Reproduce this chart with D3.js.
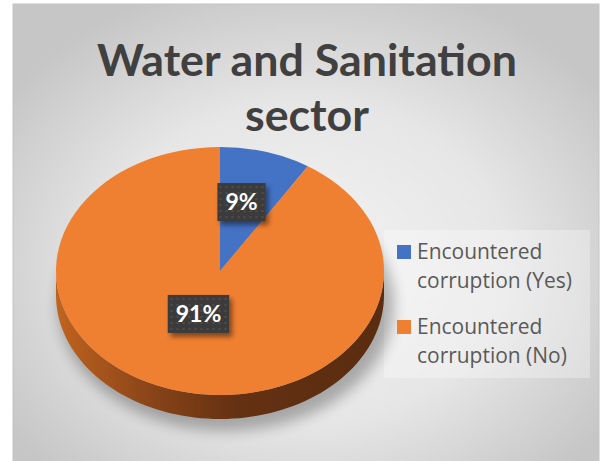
<!DOCTYPE html>
<html>
<head>
<meta charset="utf-8">
<script src="https://cdn.jsdelivr.net/npm/d3@7"></script>
<style>
  html, body { margin: 0; padding: 0; background: #ffffff; }
  svg { display: block; }
</style>
</head>
<body>
<svg id="chart" width="604" height="461"></svg>
<script>
// Survey result: share of respondents who encountered corruption
const categories = ["Encountered corruption (Yes)", "Encountered corruption (No)"];
const values = [9, 91];
const labels = ["9%", "91%"];
const colors = ["#4472C4", "#F08031"];
const titleLines = ["Water and Sanitation", "sector"];

const W = 604, H = 461;
const svg = d3.select("#chart");
const defs = svg.append("defs");

// chart background: soft radial gradient
const bg = defs.append("radialGradient").attr("id", "bgGrad")
  .attr("cx", "50%").attr("cy", "55%").attr("r", "62%");
bg.append("stop").attr("offset", "0%").attr("stop-color", "#f3f3f3");
bg.append("stop").attr("offset", "55%").attr("stop-color", "#e6e6e6");
bg.append("stop").attr("offset", "100%").attr("stop-color", "#c6c6c6");

svg.append("rect").attr("x", 13).attr("y", 4).attr("width", 586).attr("height", 470)
  .attr("fill", "url(#bgGrad)").attr("stroke", "#c4c4c4").attr("stroke-width", 1);

// side wall shading of the tilted pie
const sideGrad = defs.append("linearGradient").attr("id", "sideGrad")
  .attr("x1", "0%").attr("x2", "100%").attr("y1", "0%").attr("y2", "0%");
sideGrad.append("stop").attr("offset", "0%").attr("stop-color", "#c0631f");
sideGrad.append("stop").attr("offset", "30%").attr("stop-color", "#874318");
sideGrad.append("stop").attr("offset", "55%").attr("stop-color", "#643112");
sideGrad.append("stop").attr("offset", "100%").attr("stop-color", "#5a2c10");

// dotted dark fill for the data labels
const pat = defs.append("pattern").attr("id", "dots").attr("patternUnits", "userSpaceOnUse")
  .attr("width", 6).attr("height", 6);
pat.append("rect").attr("width", 6).attr("height", 6).attr("fill", "#3b3b3b");
pat.append("rect").attr("x", 2).attr("y", 2).attr("width", 2).attr("height", 2).attr("fill", "#4d4d4d");

const shadow = defs.append("filter").attr("id", "lblShadow")
  .attr("x", "-30%").attr("y", "-30%").attr("width", "170%").attr("height", "180%");
shadow.append("feDropShadow").attr("dx", 3).attr("dy", 4).attr("stdDeviation", 2.5)
  .attr("flood-color", "#000").attr("flood-opacity", 0.45);

const blur = defs.append("filter").attr("id", "pieShadow")
  .attr("x", "-20%").attr("y", "-20%").attr("width", "140%").attr("height", "160%");
blur.append("feGaussianBlur").attr("stdDeviation", 7);

// legend panel
svg.append("rect").attr("x", 384).attr("y", 230).attr("width", 206).attr("height", 148)
  .attr("fill", "#ffffff").attr("opacity", 0.3);

// title
const title = svg.append("text").attr("text-anchor", "middle")
  .attr("font-family", "Lato, 'Open Sans', sans-serif").attr("font-weight", "bold")
  .attr("fill", "#404040").attr("font-size", 42);
title.selectAll("tspan").data(titleLines).join("tspan")
  .attr("x", 307).attr("y", (d, i) => 76 + i * 55).text(d => d);
const firstLine = title.select("tspan").node();
const tw = firstLine.getComputedTextLength();
title.attr("font-size", 42 * 420 / tw);

// tilted 3D pie geometry
const cx = 220, cy = 271, rx = 164, ry = 124, depth = 24;
const pie = d3.pie().sort(null).value(d => d);
const arcs = pie(values);
const arc = d3.arc().innerRadius(0).outerRadius(rx);

// ellipse point for an angle measured clockwise from 12 o'clock
const px = a => cx + rx * Math.sin(a);
const py = a => cy - ry * Math.cos(a);

// soft shadow under the pie
svg.append("ellipse").attr("cx", cx + 6).attr("cy", cy + depth + 10)
  .attr("rx", rx + 4).attr("ry", ry + 2)
  .attr("fill", "#000").attr("opacity", 0.28).attr("filter", "url(#pieShadow)");

// front side wall: portion of each slice between 90° and 270°
const sideG = svg.append("g");
arcs.forEach((d, i) => {
  const a0 = Math.max(d.startAngle, Math.PI / 2);
  const a1 = Math.min(d.endAngle, 3 * Math.PI / 2);
  if (a1 <= a0) return;
  const steps = 80;
  const pts = d3.range(steps + 1).map(k => a0 + (a1 - a0) * k / steps);
  const top = pts.map(a => [px(a), py(a)]);
  const bot = pts.slice().reverse().map(a => [px(a), py(a) + depth]);
  sideG.append("path")
    .attr("d", d3.line()(top.concat(bot)) + "Z")
    .attr("fill", i === 1 ? "url(#sideGrad)" : d3.color(colors[i]).darker(1.2));
});

// top face: unit arcs squashed vertically into the ellipse
const topG = svg.append("g")
  .attr("transform", `translate(${cx},${cy}) scale(1,${ry / rx})`);
topG.selectAll("path").data(arcs).join("path")
  .attr("d", arc).attr("fill", (d, i) => colors[i]);

// data labels
const labelArc = d3.arc().innerRadius(rx * 0.47).outerRadius(rx * 0.47);
const lblG = svg.append("g");
arcs.forEach((d, i) => {
  const c = labelArc.centroid(d);
  const x = cx + c[0];
  const y = cy + c[1] * ry / rx - 13;
  const g = lblG.append("g").attr("transform", `translate(${x},${y})`);
  const t = g.append("text").attr("text-anchor", "middle").attr("dy", "0.35em")
    .attr("font-family", "Lato, 'Open Sans', sans-serif").attr("font-weight", "bold")
    .attr("font-size", 23).attr("fill", "#ffffff").text(labels[i]);
  const w = t.node().getComputedTextLength() + 16;
  g.insert("rect", "text").attr("x", -w / 2).attr("y", -19).attr("width", w).attr("height", 38)
    .attr("fill", "url(#dots)").attr("filter", "url(#lblShadow)");
});

// legend
const leg = svg.append("g").attr("font-family", "'Open Sans', Lato, sans-serif")
  .attr("font-size", 19).attr("fill", "#595959");
categories.forEach((c, i) => {
  const y0 = 245 + i * 75;
  leg.append("rect").attr("x", 397).attr("y", y0).attr("width", 14).attr("height", 14)
    .attr("fill", colors[i]);
  const words = c.split(" ");
  const lines = [words[0], words.slice(1).join(" ")];
  leg.append("text").attr("x", 417).attr("y", y0 + 14).text(lines[0]);
  leg.append("text").attr("x", 417).attr("y", y0 + 43).text(lines[1]);
});
// scale legend text so the longest line spans its measured width
const longest = d3.max(leg.selectAll("text").nodes(), n => n.getComputedTextLength());
leg.attr("font-size", 19 * 155 / longest);
</script>
</body>
</html>
